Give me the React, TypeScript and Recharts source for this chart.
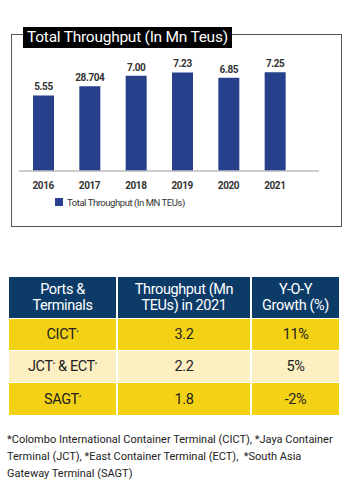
import { Bar, BarChart, LabelList, Legend, XAxis, YAxis } from 'recharts'

// chart data
const years = ['2016', '2017', '2018', '2019', '2020', '2021']
const throughput = [5.55, 6.22, 7.0, 7.23, 6.85, 7.25]
const valueLabels = ['5.55', '28.704', '7.00', '7.23', '6.85', '7.25']

// table data
const tableHeaders = [
  ['Ports &', 'Terminals'],
  ['Throughput (Mn', 'TEUs) in 2021'],
  ['Y-O-Y', 'Growth (%)'],
]
const terminals = [['CICT'], ['JCT', 'ECT'], ['SAGT']]
const throughput2021 = ['3.2', '2.2', '1.8']
const yoyGrowth = ['11%', '5%', '-2%']

const footnoteLines = [
  '*Colombo International Container Terminal (CICT), *Jaya Container',
  'Terminal (JCT), *East Container Terminal (ECT),  *South Asia',
  'Gateway Terminal (SAGT)',
]

const FONT = "Roboto, 'Noto Sans', sans-serif"
const BLUE = '#27408b'
const NAVY = '#0c3b68'
const YELLOW = '#f3d114'
const CREAM = '#fcefc2'

const data = years.map((year, i) => ({
  year,
  value: throughput[i],
  label: valueLabels[i],
}))

const Terminal = ({ parts }: { parts: string[] }) => (
  <>
    {parts.map((p, i) => (
      <span key={p}>
        {i > 0 && '\u00a0& '}
        {p}
        <sup style={{ fontSize: 6, verticalAlign: 5 }}>*</sup>
      </span>
    ))}
  </>
)

const cell = (bg: string, color: string): React.CSSProperties => ({
  background: bg,
  color,
  display: 'flex',
  alignItems: 'center',
  justifyContent: 'center',
  textAlign: 'center',
  fontSize: 14.5,
  letterSpacing: -0.4,
})

export default function App() {
  return (
    <div
      style={{
        position: 'absolute',
        left: 0,
        top: 0,
        width: 355,
        height: 487,
        background: '#fff',
        fontFamily: FONT,
      }}
    >
      {/* chart frame */}
      <div
        style={{
          position: 'absolute',
          left: 11,
          top: 34,
          width: 329,
          height: 191,
          border: '1.5px solid #555',
        }}
      />
      <div style={{ position: 'absolute', left: 0, top: 0 }}>
        <BarChart
          width={355}
          height={230}
          data={data}
          margin={{ top: 62, right: 36, left: 19, bottom: 10 }}
        >
          <XAxis
            dataKey="year"
            axisLine={{ stroke: '#bdbdbd', strokeWidth: 1.5 }}
            tickLine={false}
            tickMargin={5}
            padding={{ left: 1, right: 21 }}
            tick={{ fill: '#333', fontSize: 10, fontWeight: 700, fontFamily: FONT, letterSpacing: -0.4 }}
          />
          <YAxis hide domain={[0, 8]} />
          <Legend
            verticalAlign="bottom"
            align="left"
            iconType="square"
            iconSize={8}
            wrapperStyle={{ position: 'absolute', left: 55, top: 191, width: 200, bottom: 'auto' }}
            formatter={() => (
              <span style={{ color: '#333', fontSize: 9.5, fontFamily: FONT, letterSpacing: -0.45 }}>
                Total Throughput (In MN TEUs)
              </span>
            )}
          />
          <Bar
            dataKey="value"
            name="Total Throughput (In MN TEUs)"
            fill={BLUE}
            barSize={21}
            isAnimationActive={false}
          >
            <LabelList
              dataKey="label"
              position="top"
              style={{ fill: '#333', fontSize: 10, fontWeight: 700, fontFamily: FONT, letterSpacing: -0.4 }}
            />
          </Bar>
        </BarChart>
      </div>
      {/* title */}
      <div
        style={{
          position: 'absolute',
          left: 23,
          top: 27,
          height: 21,
          padding: '0 4px',
          background: '#000',
          color: '#fff',
          fontSize: 15.5,
          letterSpacing: -0.25,
          lineHeight: '21px',
          whiteSpace: 'nowrap',
        }}
      >
        Total Throughput (In Mn Teus)
      </div>

      {/* table */}
      <div
        style={{
          position: 'absolute',
          left: 9,
          top: 277,
          width: 330,
          display: 'grid',
          gridTemplateColumns: '107px 132px 87px',
          gridTemplateRows: '41px 31px 31px 32px',
          columnGap: 2,
          rowGap: 1,
        }}
      >
        {tableHeaders.map((h) => (
          <div
            key={h[0]}
            style={{ ...cell(NAVY, '#fff'), fontSize: 14.5, lineHeight: '16px', flexDirection: 'column' }}
          >
            <div>{h[0]}</div>
            <div>{h[1]}</div>
          </div>
        ))}
        {terminals.map((t, i) => {
          const bg = i === 1 ? CREAM : YELLOW
          return [
            <div key={'a' + i} style={cell(bg, '#222')}>
              <Terminal parts={t} />
            </div>,
            <div key={'b' + i} style={cell(bg, '#222')}>
              {throughput2021[i]}
            </div>,
            <div key={'c' + i} style={cell(bg, '#222')}>
              {yoyGrowth[i]}
            </div>,
          ]
        })}
      </div>

      {/* footnote */}
      <div
        style={{
          position: 'absolute',
          left: 7,
          top: 431,
          fontSize: 11,
          lineHeight: '17px',
          letterSpacing: 0,
          color: '#222',
          whiteSpace: 'pre',
        }}
      >
        {footnoteLines.map((l) => (
          <div key={l}>{l}</div>
        ))}
      </div>
    </div>
  )
}
